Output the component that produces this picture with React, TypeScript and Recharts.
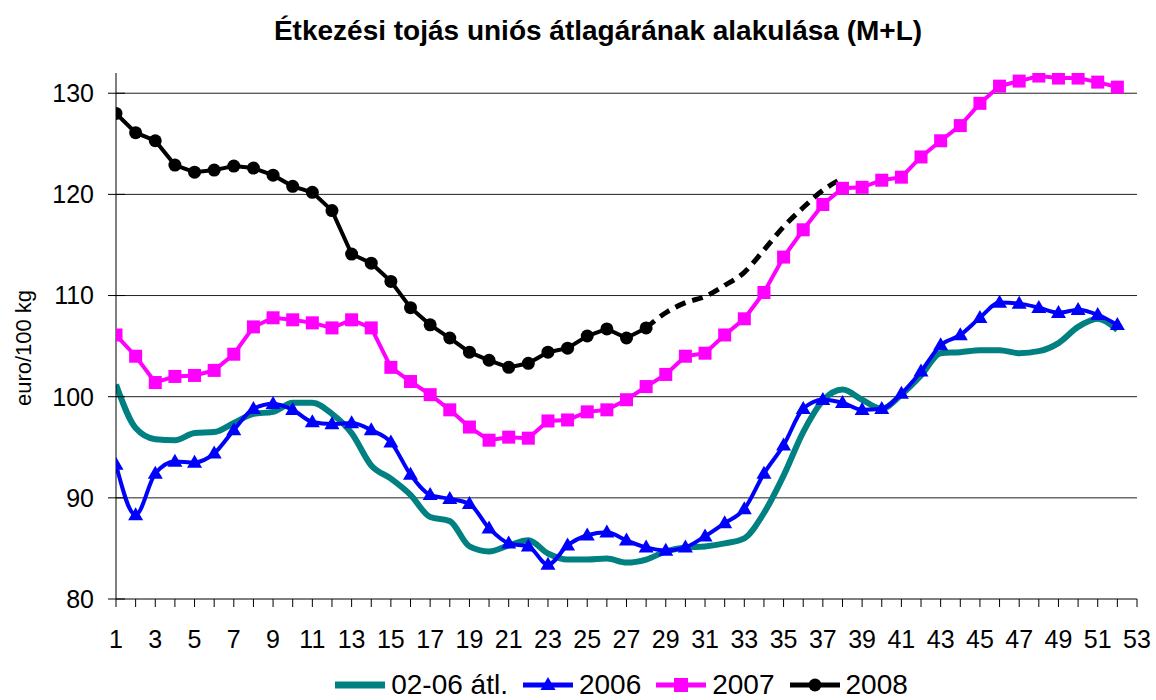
import React from 'react';
import { LineChart, Line, XAxis, YAxis, Legend, ReferenceLine } from 'recharts';

const FONT = "'Liberation Sans', Arial, Helvetica, sans-serif";

const TITLE = 'Étkezési tojás uniós átlagárának alakulása (M+L)';
const Y_LABEL = 'euro/100 kg';

const WEEKS = [
  1, 2, 3, 4, 5, 6, 7, 8, 9, 10, 11, 12, 13, 14, 15, 16, 17, 18, 19, 20, 21, 22, 23, 24, 25, 26,
  27, 28, 29, 30, 31, 32, 33, 34, 35, 36, 37, 38, 39, 40, 41, 42, 43, 44, 45, 46, 47, 48, 49, 50, 51, 52,
];
const X_TICKS = [
  1, 2, 3, 4, 5, 6, 7, 8, 9, 10, 11, 12, 13, 14, 15, 16, 17, 18, 19, 20, 21, 22, 23, 24, 25, 26,
  27, 28, 29, 30, 31, 32, 33, 34, 35, 36, 37, 38, 39, 40, 41, 42, 43, 44, 45, 46, 47, 48, 49, 50, 51, 52, 53,
];
const Y_TICKS = [80, 90, 100, 110, 120, 130];
const GRID_VALUES = [90, 100, 110, 120, 130];

const AVG_02_06 = [
  101.2, 96.9, 95.8, 95.7, 96.4, 96.5, 97.4, 98.3, 98.5, 99.4, 99.4, 98.3, 96.4, 93.2, 91.9, 90.3,
  88.1, 87.7, 85.2, 84.7, 85.3, 85.8, 84.5, 83.9, 83.9, 84.0, 83.6, 83.9, 84.7, 85.1, 85.2, 85.5,
  86.0, 88.5, 92.2, 96.5, 99.6, 100.7, 99.7, 98.8, 100.2, 102.1, 104.3, 104.4, 104.6, 104.6, 104.3,
  104.5, 105.3, 106.9, 107.7, 106.6,
];
const Y2006 = [
  93.3, 88.3, 92.4, 93.6, 93.5, 94.4, 96.7, 98.8, 99.3, 98.7, 97.5, 97.3, 97.4, 96.7, 95.5, 92.3,
  90.3, 89.9, 89.4, 87.0, 85.5, 85.2, 83.4, 85.3, 86.3, 86.6, 85.8, 85.1, 84.8, 85.1, 86.2, 87.5,
  88.9, 92.4, 95.2, 98.8, 99.7, 99.4, 98.7, 98.8, 100.3, 102.5, 105.1, 106.1, 107.8, 109.3, 109.2,
  108.8, 108.3, 108.6, 108.1, 107.1,
];
const Y2007 = [
  106.1, 104.0, 101.4, 102.0, 102.1, 102.6, 104.2, 106.9, 107.8, 107.6, 107.3, 106.8, 107.6, 106.8,
  102.9, 101.5, 100.2, 98.7, 97.0, 95.7, 96.0, 95.9, 97.6, 97.7, 98.5, 98.7, 99.7, 101.0, 102.2,
  104.0, 104.3, 106.1, 107.7, 110.3, 113.8, 116.5, 119.0, 120.6, 120.7, 121.4, 121.7, 123.7, 125.3,
  126.8, 129.0, 130.7, 131.2, 131.7, 131.5, 131.5, 131.1, 130.6,
];
const Y2008 = [
  128.0, 126.1, 125.3, 122.9, 122.2, 122.4, 122.8, 122.6, 121.9, 120.8, 120.2, 118.4, 114.1, 113.2,
  111.4, 108.8, 107.1, 105.8, 104.4, 103.6, 102.9, 103.3, 104.4, 104.8, 106.0, 106.7, 105.8, 106.8,
];
const FORECAST_WEEKS = [28, 29, 30, 31, 32, 33, 34, 35, 36, 37, 38];
const FORECAST_2008 = [106.8, 108.3, 109.3, 109.9, 111.0, 112.3, 114.5, 116.8, 118.7, 120.4, 121.6];

const data = WEEKS.map((w, i) => {
  const fi = FORECAST_WEEKS.indexOf(w);
  return {
    week: w,
    avg: AVG_02_06[i],
    y2006: Y2006[i],
    y2007: Y2007[i],
    y2008: i < Y2008.length ? Y2008[i] : null,
    fc: fi >= 0 ? FORECAST_2008[fi] : null,
  };
});

const TEAL = '#008080';
const BLUE = '#0000FF';
const MAGENTA = '#FF00FF';
const BLACK = '#000000';

const Y_TICK_SIZE = 8;
const Y_TICK_MARGIN = 14;

const TriangleDot = (props: any) => {
  const { cx, cy, index } = props;
  if (cx == null || cy == null || isNaN(cy)) return <g key={`t${index}`} />;
  const w = 15, h = 13;
  return (
    <path
      key={`t${index}`}
      d={`M${cx},${cy - h * 0.6} L${cx + w / 2},${cy + h * 0.4} L${cx - w / 2},${cy + h * 0.4} Z`}
      fill={BLUE}
      stroke="none"
    />
  );
};

const SquareDot = (props: any) => {
  const { cx, cy, index } = props;
  if (cx == null || cy == null || isNaN(cy)) return <g key={`s${index}`} />;
  const s = 13;
  return <rect key={`s${index}`} x={cx - s / 2} y={cy - s / 2} width={s} height={s} fill={MAGENTA} />;
};

const CircleDot = (props: any) => {
  const { cx, cy, index } = props;
  if (cx == null || cy == null || isNaN(cy)) return <g key={`c${index}`} />;
  return <circle key={`c${index}`} cx={cx} cy={cy} r={6.5} fill={BLACK} />;
};

const YTick = (props: any) => {
  const { x, y, payload } = props;
  const axisX = x + Y_TICK_SIZE + Y_TICK_MARGIN;
  return (
    <g>
      <line x1={axisX - 8} x2={axisX + 9} y1={y} y2={y} stroke="#000" strokeWidth={1} />
      <text x={x} y={y} dy="0.355em" textAnchor="end" fontSize={25} fontFamily={FONT} fill="#000">
        {payload.value}
      </text>
    </g>
  );
};

const LEGEND_ITEMS = [
  { name: '02-06 átl.', color: TEAL, marker: 'none', width: 7 },
  { name: '2006', color: BLUE, marker: 'triangle', width: 5 },
  { name: '2007', color: MAGENTA, marker: 'square', width: 5 },
  { name: '2008', color: BLACK, marker: 'circle', width: 5 },
];

const LegendContent = () => (
  <div
    style={{
      display: 'flex',
      justifyContent: 'center',
      alignItems: 'center',
      height: 30,
      fontFamily: FONT,
      fontSize: 28,
      color: '#000',
      whiteSpace: 'nowrap',
    }}
  >
    {LEGEND_ITEMS.map((it, i) => (
      <div key={it.name} style={{ display: 'flex', alignItems: 'center', marginRight: i < LEGEND_ITEMS.length - 1 ? 15 : 0 }}>
        <svg width={50} height={30} style={{ display: 'block' }}>
          <line x1={0} x2={50} y1={15} y2={15} stroke={it.color} strokeWidth={it.width} />
          {it.marker === 'triangle' && <path d="M25,7 L32.5,20 L17.5,20 Z" fill={it.color} />}
          {it.marker === 'square' && <rect x={18} y={8} width={14} height={14} fill={it.color} />}
          {it.marker === 'circle' && <circle cx={25} cy={15} r={6.5} fill={it.color} />}
        </svg>
        <span style={{ marginLeft: 6, lineHeight: '30px' }}>{it.name}</span>
      </div>
    ))}
  </div>
);

export default function App() {
  return (
    <div style={{ position: 'absolute', left: 0, top: 0, width: 1156, height: 700, background: '#fff' }}>
      <LineChart
        width={1156}
        height={700}
        data={data}
        margin={{ top: 73, right: 19, left: 0, bottom: 0 }}
      >
        <text
          x={598}
          y={40}
          textAnchor="middle"
          fontFamily={FONT}
          fontSize={28}
          fontWeight="bold"
          fill="#000"
        >
          {TITLE}
        </text>
        <text
          x={0}
          y={0}
          transform="translate(31,348) rotate(-90)"
          textAnchor="middle"
          fontFamily={FONT}
          fontSize={22}
          fill="#000"
        >
          {Y_LABEL}
        </text>
        <XAxis
          dataKey="week"
          type="number"
          domain={[1, 53]}
          ticks={X_TICKS}
          interval={0}
          tickFormatter={(v: number) => (v % 2 === 1 ? String(v) : '')}
          tickSize={8}
          tickMargin={23}
          height={71}
          axisLine={{ stroke: '#000' }}
          tickLine={{ stroke: '#000' }}
          tick={{ fontSize: 25, fontFamily: FONT, fill: '#000' }}
          allowDataOverflow
        />
        <YAxis
          type="number"
          domain={[80, 132]}
          ticks={Y_TICKS}
          interval={0}
          width={116}
          tickSize={Y_TICK_SIZE}
          tickMargin={Y_TICK_MARGIN}
          tickLine={false}
          axisLine={{ stroke: '#000' }}
          tick={<YTick />}
          allowDataOverflow
        />
        {GRID_VALUES.map((v) => (
          <ReferenceLine key={v} y={v} stroke="#222" strokeWidth={1} />
        ))}
        <Legend
          verticalAlign="bottom"
          content={<LegendContent />}
          wrapperStyle={{ left: 116, width: 1011, height: 30 }}
        />
        <Line
          dataKey="fc"
          type="monotone"
          stroke={BLACK}
          strokeWidth={5}
          strokeDasharray="11 7"
          dot={false}
          activeDot={false}
          isAnimationActive={false}
          legendType="none"
        />
        <Line
          dataKey="avg"
          name="02-06 átl."
          type="monotone"
          stroke={TEAL}
          strokeWidth={6}
          dot={false}
          activeDot={false}
          isAnimationActive={false}
        />
        <Line
          dataKey="y2006"
          name="2006"
          type="monotone"
          stroke={BLUE}
          strokeWidth={4}
          dot={TriangleDot}
          activeDot={false}
          isAnimationActive={false}
        />
        <Line
          dataKey="y2007"
          name="2007"
          type="linear"
          stroke={MAGENTA}
          strokeWidth={4}
          dot={SquareDot}
          activeDot={false}
          isAnimationActive={false}
        />
        <Line
          dataKey="y2008"
          name="2008"
          type="linear"
          stroke={BLACK}
          strokeWidth={4}
          dot={CircleDot}
          activeDot={false}
          isAnimationActive={false}
        />
      </LineChart>
    </div>
  );
}
